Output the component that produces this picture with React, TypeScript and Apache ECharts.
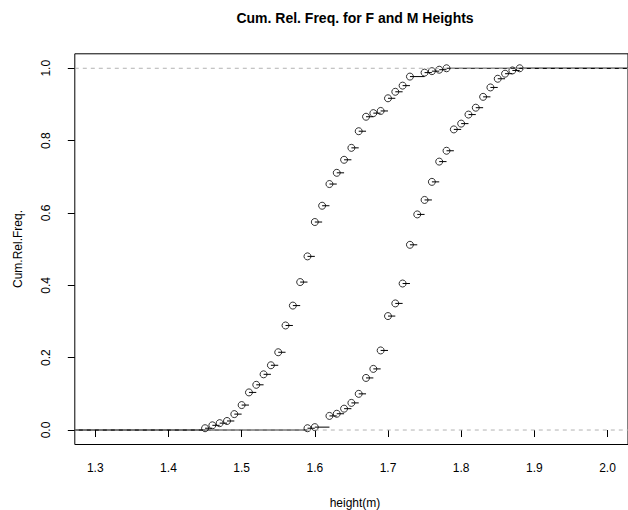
import React, { useEffect, useRef } from "react";
import * as echarts from "echarts";

// Female heights (m) and cumulative relative frequency
const femaleHeights = [1.45, 1.46, 1.47, 1.48, 1.49, 1.5, 1.51, 1.52, 1.53, 1.54, 1.55, 1.56, 1.57, 1.58, 1.59, 1.6, 1.61, 1.62, 1.63, 1.64, 1.65, 1.66, 1.67, 1.68, 1.69, 1.7, 1.71, 1.72, 1.73, 1.75, 1.76, 1.77, 1.78];
const femaleCumFreq = [0.005, 0.013, 0.019, 0.025, 0.044, 0.069, 0.104, 0.125, 0.154, 0.179, 0.215, 0.289, 0.344, 0.409, 0.48, 0.575, 0.62, 0.68, 0.711, 0.747, 0.78, 0.826, 0.866, 0.876, 0.882, 0.917, 0.935, 0.952, 0.977, 0.988, 0.992, 0.996, 1.0];

// Male heights (m) and cumulative relative frequency
const maleHeights = [1.59, 1.6, 1.62, 1.63, 1.64, 1.65, 1.66, 1.67, 1.68, 1.69, 1.7, 1.71, 1.72, 1.73, 1.74, 1.75, 1.76, 1.77, 1.78, 1.79, 1.8, 1.81, 1.82, 1.83, 1.84, 1.85, 1.86, 1.87, 1.88];
const maleCumFreq = [0.005, 0.008, 0.039, 0.045, 0.059, 0.075, 0.1, 0.144, 0.169, 0.22, 0.315, 0.35, 0.405, 0.512, 0.596, 0.636, 0.686, 0.742, 0.772, 0.831, 0.847, 0.872, 0.891, 0.921, 0.947, 0.971, 0.985, 0.994, 1.0];

const xTicks = [1.3, 1.4, 1.5, 1.6, 1.7, 1.8, 1.9, 2.0];
const yTicks = [0, 0.2, 0.4, 0.6, 0.8, 1.0];
const refLines = [0, 1];

const X_MIN = 1.272;
const X_MAX = 2.028;
const Y_MIN = -0.04;
const Y_MAX = 1.04;

const FONT = "'Liberation Sans', Arial, Helvetica, sans-serif";

function stepSegments(xs: number[], ys: number[]) {
  const segs: number[][] = [[X_MIN, 0, xs[0]]];
  for (let i = 0; i < xs.length; i++) {
    segs.push([xs[i], ys[i], i + 1 < xs.length ? xs[i + 1] : X_MAX]);
  }
  return segs;
}

const segRender = (params: any, api: any) => {
  const y = api.value(1);
  const p1 = api.coord([api.value(0), y]);
  const p2 = api.coord([api.value(2), y]);
  return {
    type: "line",
    shape: { x1: p1[0], y1: p1[1], x2: p2[0], y2: p2[1] },
    style: { stroke: "#000", lineWidth: 1, fill: null },
  };
};

const refRender = (params: any, api: any) => {
  const y = api.value(0);
  const p1 = api.coord([X_MIN, y]);
  const p2 = api.coord([X_MAX, y]);
  return {
    type: "line",
    shape: { x1: p1[0], y1: p1[1], x2: p2[0], y2: p2[1] },
    style: { stroke: "#b3b3b3", lineWidth: 1, lineDash: [4, 4], fill: null },
  };
};

export default function App() {
  const ref = useRef<HTMLDivElement>(null);
  useEffect(() => {
    if (!ref.current) return;
    const chart = echarts.init(ref.current, null, { renderer: "svg" });
    const pointStyle = {
      color: "rgba(0,0,0,0)",
      borderColor: "#000",
      borderWidth: 1,
    };
    chart.setOption({
      animation: false,
      backgroundColor: "#fff",
      textStyle: { fontFamily: FONT },
      grid: {
        left: 74.8,
        right: -7.6,
        top: 53.8,
        bottom: 65.5,
        show: true,
        borderColor: "#000",
        borderWidth: 1,
        backgroundColor: "transparent",
      },
      xAxis: {
        type: "value",
        min: X_MIN,
        max: X_MAX,
        splitLine: { show: false },
        axisLine: { show: false },
        axisTick: {
          show: true,
          customValues: xTicks,
          length: 7,
          lineStyle: { color: "#000", width: 1 },
        },
        axisLabel: {
          customValues: xTicks,
          margin: 17,
          color: "#000",
          fontSize: 12,
          fontFamily: FONT,
          formatter: (v: number) => v.toFixed(1),
        },
      },
      yAxis: {
        type: "value",
        min: Y_MIN,
        max: Y_MAX,
        splitLine: { show: false },
        axisLine: { show: false },
        axisTick: {
          show: true,
          customValues: yTicks,
          length: 7,
          lineStyle: { color: "#000", width: 1 },
        },
        axisLabel: {
          customValues: yTicks,
          rotate: 90,
          margin: 23,
          color: "#000",
          fontSize: 12,
          fontFamily: FONT,
          formatter: (v: number) => v.toFixed(1),
        },
      },
      graphic: [
        {
          type: "text",
          x: 355,
          y: 18,
          style: {
            text: "Cum. Rel. Freq. for F and M Heights",
            fill: "#000",
            font: `bold 14px ${FONT}`,
            align: "center",
            verticalAlign: "middle",
          },
        },
        {
          type: "text",
          x: 355,
          y: 503,
          style: {
            text: "height(m)",
            fill: "#000",
            font: `12px ${FONT}`,
            align: "center",
            verticalAlign: "middle",
          },
        },
        {
          type: "text",
          x: 18,
          y: 249,
          rotation: Math.PI / 2,
          style: {
            text: "Cum.Rel.Freq.",
            fill: "#000",
            font: `12px ${FONT}`,
            align: "center",
            verticalAlign: "middle",
          },
        },
      ],
      series: [
        {
          name: "F steps",
          type: "custom",
          renderItem: segRender,
          data: stepSegments(femaleHeights, femaleCumFreq),
          encode: { x: [0, 2], y: 1 },
          z: 2,
        },
        {
          name: "M steps",
          type: "custom",
          renderItem: segRender,
          data: stepSegments(maleHeights, maleCumFreq),
          encode: { x: [0, 2], y: 1 },
          z: 2,
        },
        {
          name: "F",
          type: "scatter",
          symbol: "circle",
          symbolSize: 7,
          data: femaleHeights.map((h, i) => [h, femaleCumFreq[i]]),
          itemStyle: pointStyle,
          z: 3,
        },
        {
          name: "M",
          type: "scatter",
          symbol: "circle",
          symbolSize: 7,
          data: maleHeights.map((h, i) => [h, maleCumFreq[i]]),
          itemStyle: pointStyle,
          z: 3,
        },
        {
          name: "ref",
          type: "custom",
          renderItem: refRender,
          data: refLines.map((v) => [v]),
          encode: { y: 0 },
          z: 4,
        },
      ],
    });
    return () => chart.dispose();
  }, []);
  return (
    <div
      ref={ref}
      style={{ position: "fixed", left: 0, top: 0, width: 628, height: 510 }}
    />
  );
}
